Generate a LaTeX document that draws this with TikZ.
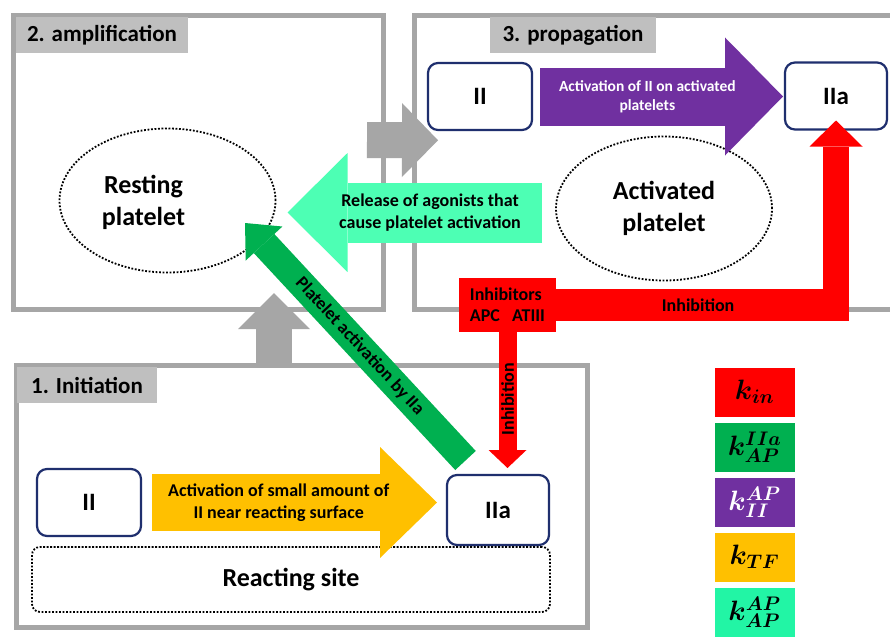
\RequirePackage{fix-cm}
\documentclass[tikz,border=0pt]{standalone}
\usepackage{bm}
\usepackage{fontspec}
\setmainfont{Carlito}
\usetikzlibrary{arrows.meta,calc,positioning,shapes.geometric}
\newcommand{\cgfont}[2]{\fontsize{#1}{#2}\selectfont\bfseries}
\definecolor{cgGray}{HTML}{A6A6A6}
\definecolor{cgTagGray}{HTML}{BFBFBF}
\definecolor{cgNavy}{HTML}{1F2F6E}
\definecolor{cgRed}{HTML}{FF0000}
\definecolor{cgGreen}{HTML}{00B050}
\definecolor{cgPurple}{HTML}{7030A0}
\definecolor{cgYellow}{HTML}{FFC000}
\definecolor{cgMint}{HTML}{4DFFB4}
\definecolor{cgMintDark}{HTML}{22F5A5}
\tikzset{
  cgFrame/.style={
    rectangle, draw=cgGray, line width=5pt, inner sep=0pt, outer sep=0pt
  },
  cgTag/.style={
    rectangle, fill=cgTagGray, inner sep=0pt, outer sep=0pt,
    minimum height=36pt, font=\cgfont{23}{27}
  },
  cgSpecies/.style={
    rectangle, rounded corners=10pt, draw=cgNavy, line width=2.2pt, fill=white,
    outer sep=0pt, minimum width=104pt, minimum height=67pt, font=\cgfont{25}{30}
  },
  cgPlatelet/.style={
    ellipse, draw=black, line width=1.8pt, dash pattern=on 1.8pt off 1.7pt,
    outer sep=0pt, minimum width=216pt, minimum height=144pt,
    align=center, font=\cgfont{26}{32}
  },
  cgSite/.style={
    rectangle, rounded corners=8pt, draw=black, line width=1.8pt,
    dash pattern=on 1.8pt off 1.7pt, font=\cgfont{26}{30}
  },
  cgInhib/.style={
    rectangle, fill=cgRed, inner sep=0pt, outer sep=0pt,
    minimum width=97pt, minimum height=54pt, align=left, font=\cgfont{18}{21}
  },
  cgRate/.style={
    rectangle, fill=#1, inner sep=0pt, outer sep=0pt,
    minimum width=80pt, minimum height=49pt, font=\fontsize{28}{30}\selectfont
  },
  cgBlock/.style 2 args={line width=#1, -{Triangle[length=#1, width=#2, line width=0pt]}},
  cgLabel/.style={align=center, inner sep=0pt, font=\cgfont{18}{22}}
}

\begin{document}
\begin{tikzpicture}[x=1pt, y=-1pt]
  \useasboundingbox (0,0) rectangle (890,637);
  \fill[white] (0,0) rectangle (890,637);

  % stage frames
  \node[cgFrame, minimum width=370pt, minimum height=294pt] (amp) at (198.5,162) {};
  \node[cgFrame, minimum width=480.5pt, minimum height=294.5pt] (prop) at (654.75,162.25) {};
  \node[cgFrame, minimum width=571pt, minimum height=262pt] (init) at (301.5,496) {};
  \node[cgTag, minimum width=172pt] (ampTag) at (102,35) {2. amplification};
  \node[cgTag, minimum width=166pt] (propTag) at (573,35) {3. propagation};
  \node[cgTag, minimum width=140pt] (initTag) at (87,385) {1. Initiation};

  % stage transitions
  \draw[cgBlock={36pt}{72pt}, draw=cgGray] ($(init.north)+(-27.5,0)$) -- ($(amp.south)+(75.5,-16)$);
  \draw[cgBlock={36pt}{74pt}, draw=cgGray] ($(amp.east)+(-16.5,-22)$) -- ($(prop.west)+(23.5,-22)$);

  % platelets and species
  \node[cgPlatelet] (rest) at (167.5,200.5) {};
  \node[cgLabel, font=\cgfont{26}{32}] (restText) at (143.5,202) {Resting\\platelet};
  \node[cgPlatelet] (act) at (664,208.5) {Activated\\platelet};
  \node[cgSpecies] (iiInit) at (89,502.5) {II};
  \node[cgSpecies, minimum width=102pt, minimum height=70pt] (iiaInit) at (498,510) {IIa};
  \node[cgSpecies] (iiProp) at (480,96.5) {II};
  \node[cgSpecies, minimum width=102pt] (iiaProp) at (836,96) {IIa};
  \node[cgSite, minimum width=518pt, minimum height=65pt] (site) at (291,579.5) {Reacting site};

  % reactions
  \draw[cgBlock={57pt}{111pt}, draw=cgYellow, shorten <=11pt, shorten >=10pt]
    (iiInit.east) -- (iiInit.east -| iiaInit.west)
    node[cgLabel, pos=.45] {Activation of small amount of\\II near reacting surface};
  \draw[cgBlock={58pt}{118pt}, draw=cgPurple, shorten <=8pt, shorten >=2pt]
    (iiProp.east) -- (iiProp.east -| iiaProp.west)
    node[cgLabel, pos=.456, text=white, font=\cgfont{15.5}{19}] {Activation of II on activated\\platelets};
  \draw[cgBlock={60pt}{119pt}, draw=cgMint]
    ($(act.west)+(-14,4)$) -- ($(rest.east)+(12,12)$)
    node[cgLabel, pos=.44] {Release of agonists that\\cause platelet activation};
  \draw[cgBlock={28pt}{50pt}, draw=cgGreen]
    ($(iiaInit.north west)+(18.5,-14.5)$) -- ($(rest.center)+(77.5,22.5)$)
    node[cgLabel, pos=.48, sloped] {Platelet activation by IIa};

  % inhibition
  \node[cgInhib] (inh) at (507.5,305) {Inhibitors\\APC~~~ATIII};
  \coordinate (bend) at (iiaProp.south |- inh.east);
  \draw[draw=cgRed, line width=32pt] (inh.east) -- ([xshift=13pt]bend)
    node[cgLabel, pos=.485] {Inhibition};
  \draw[cgBlock={26pt}{53pt}, draw=cgRed, shorten >=-9pt] ([yshift=-14pt]bend) -- (iiaProp.south);
  \draw[cgBlock={18pt}{38pt}, draw=cgRed, shorten >=7pt]
    (inh.south) -- (inh.south |- iiaInit.north)
    node[cgLabel, pos=.47, rotate=90] {Inhibition};

  % rate constants
  \node[cgRate=cgRed] (kIn) at (754.5,392) {$\bm{k_{in}}$};
  \node[cgRate=cgGreen, below=6pt of kIn] (kApIIa) {$\bm{k_{AP}^{IIa}}$};
  \node[cgRate=cgPurple, text=white, below=6pt of kApIIa] (kIIAp) {$\bm{k_{II}^{AP}}$};
  \node[cgRate=cgYellow, below=6pt of kIIAp] (kTF) {$\bm{k_{TF}}$};
  \node[cgRate=cgMintDark, below=6pt of kTF] (kApAp) {$\bm{k_{AP}^{AP}}$};
\end{tikzpicture}
\end{document}
